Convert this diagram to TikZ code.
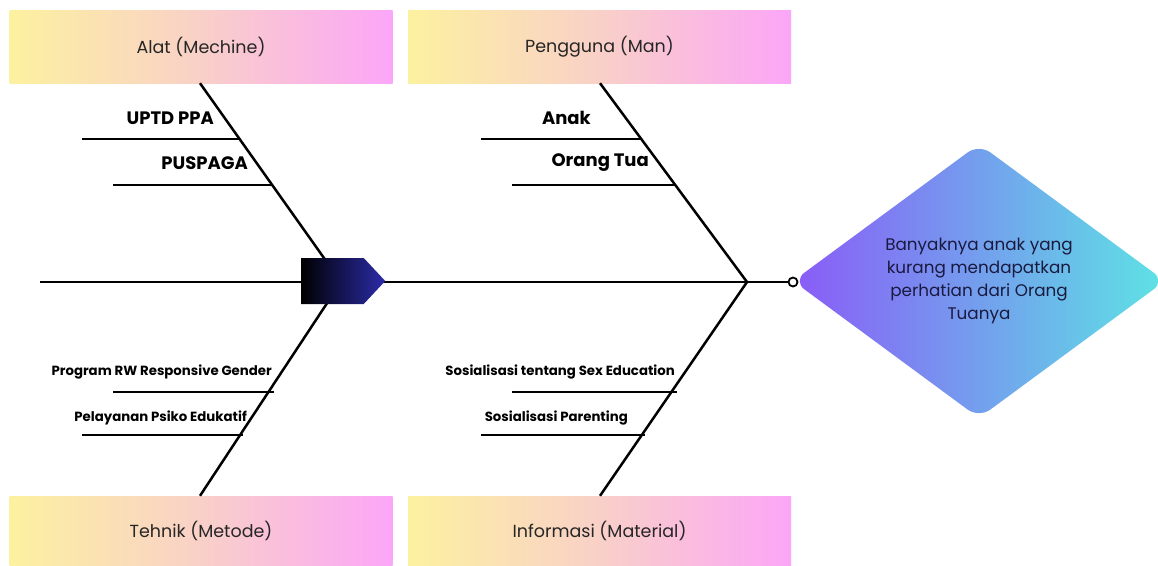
\documentclass[tikz,border=0pt]{standalone}
\usepackage{fontspec}
\setmainfont{Poppins}
\usetikzlibrary{shapes.geometric,shapes.symbols,positioning}

\definecolor{boxyellow}{HTML}{FCF1A0}
\definecolor{boxpeach}{HTML}{F9D0C8}
\definecolor{boxpink}{HTML}{FBA6F8}
\definecolor{headblue}{HTML}{2B2BAA}
\definecolor{effviolet}{HTML}{8A5BF7}
\definecolor{effcyan}{HTML}{5DE3E4}
\definecolor{efftext}{HTML}{1A1A40}

\tikzset{
  catbox/.style={minimum width=383pt, minimum height=73pt, inner sep=0pt,
    left color=boxyellow, right color=boxpink, middle color=boxpeach,
    text=black!85, font=\fontsize{17.5}{21}\selectfont},
  bone/.style={line width=2.5pt, black},
  twig/.style={line width=2.5pt, black},
  causelabel/.style={anchor=east, inner sep=0pt, font=\bfseries\fontsize{18}{21}\selectfont},
  smallcause/.style={anchor=east, inner sep=0pt, font=\bfseries\fontsize{13.3}{16}\selectfont},
}

\begin{document}
\begin{tikzpicture}[x=1pt, y=-1pt]

  \useasboundingbox (0,0) rectangle (1158,565);

  %Category boxes
  \node [catbox] (alat)      at (201,46.5)  {Alat (Mechine)};
  \node [catbox] (pengguna)  at (599.5,46.5) {Pengguna (Man)};
  \node [catbox, minimum height=69pt] (tehnik)    at (201,530.5)  {Tehnik (Metode)};
  \node [catbox, minimum height=69pt] (informasi) at (599.5,530.5) {Informasi (Material)};

  %Spine and bones
  \coordinate (tail)   at (40,282);
  \coordinate (leftj)  at (341,282);
  \coordinate (rightj) at (747,282);
  \node [circle, draw, line width=1.8pt, fill=white, inner sep=0pt,
         minimum size=9pt] (tip) at (793,282) {};

  \draw [bone] (tail) -- (tip);
  \draw [bone] (alat.south -| 200,0)      -- (leftj);
  \draw [bone] (tehnik.north -| 200,0)    -- (leftj);
  \draw [bone] (pengguna.south -| 600,0)  -- (rightj);
  \draw [bone] (informasi.north -| 600,0) -- (rightj);

  %Head
  \node [signal, signal to=east, signal pointer angle=94, anchor=west,
         minimum width=84pt, minimum height=46pt, inner sep=0pt,
         left color=black, right color=headblue] (head) at (301,281) {};

  %Alat (Mechine)
  \draw [twig] (82,139)  -- (240,139);
  \draw [twig] (113,185) -- (272,185);
  \node [causelabel] (uptd)     at (214,118) {UPTD PPA};
  \node [causelabel] (puspaga)  at (248,163) {PUSPAGA};

  %Pengguna (Man)
  \draw [twig] (481,139) -- (641,139);
  \draw [twig] (512,185) -- (675,185);
  \node [causelabel] (anak)     at (591,118) {Anak};
  \node [causelabel] (orangtua) at (649,163) {Orang Tua};

  %Tehnik (Metode)
  \draw [twig] (113,392) -- (274,392);
  \draw [twig] (82,435)  -- (243,435);
  \node [smallcause] (programrw)  at (272,372) {Program RW Responsive Gender};
  \node [smallcause] (pelayanan)  at (247,418) {Pelayanan Psiko Edukatif};

  %Informasi (Material)
  \draw [twig] (512,392) -- (677,392);
  \draw [twig] (481,435) -- (645,435);
  \node [smallcause] (sexedu)    at (675,372) {Sosialisasi tentang Sex Education};
  \node [smallcause] (parenting) at (628,418) {Sosialisasi Parenting};

  %Effect
  \node [diamond, minimum width=372pt, minimum height=274pt, inner sep=0pt,
         rounded corners=14pt, left color=effviolet, right color=effcyan,
         text=efftext, align=center, font=\fontsize{16.8}{23}\selectfont]
         (effect) at (979,281)
         {Banyaknya anak yang\\kurang mendapatkan\\perhatian dari Orang\\Tuanya};

\end{tikzpicture}
\end{document}
